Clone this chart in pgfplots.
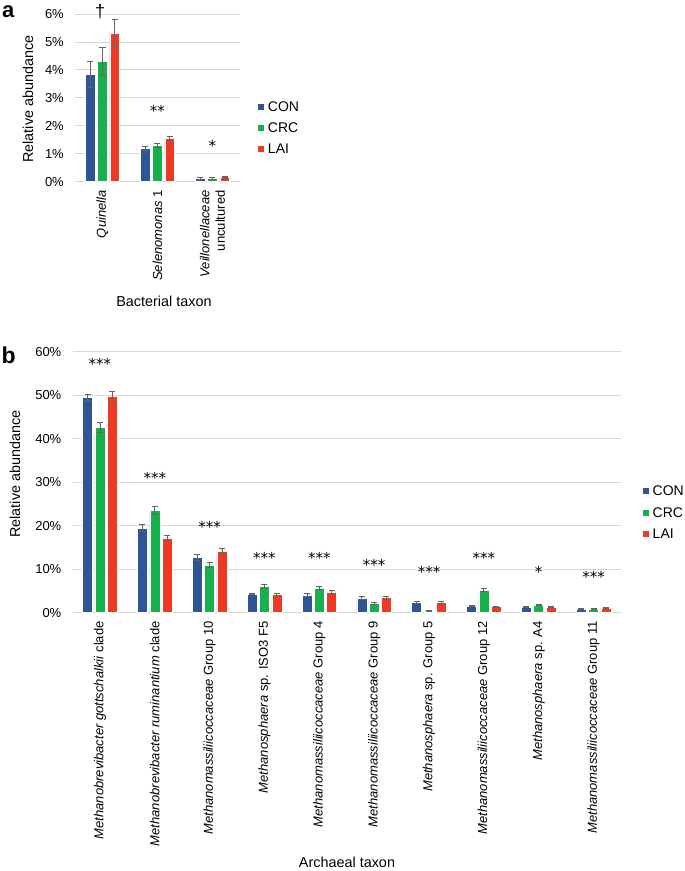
\documentclass[border=0pt]{standalone}
\usepackage{pgfplots}
\pgfplotsset{compat=1.18}
\usepackage{pgfplotstable}
\usepackage{fontspec}
\setmainfont{Liberation Sans}
\newfontfamily\djv{DejaVu Sans}
\definecolor{conblue}{RGB}{47,85,151}
\definecolor{crcgreen}{RGB}{22,176,76}
\definecolor{laired}{RGB}{238,58,36}
\definecolor{gridgray}{RGB}{217,217,217}
\definecolor{errgray}{RGB}{100,100,100}

\pgfplotstableread{
x CON eCON CRC eCRC LAI eLAI
0 3.85 0.47 4.30 0.50 5.32 0.48
1 1.19 0.06 1.29 0.07 1.55 0.08
2 0.12 0.02 0.12 0.02 0.16 0.02
}\tabA

\pgfplotstableread{
x CON eCON CRC eCRC LAI eLAI
0 49.5 0.8 42.6 1.1 49.8 1.0
1 19.4 0.8 23.5 0.9 17.2 0.6
2 12.7 0.6 11.0 0.6 14.1 0.6
3 4.3 0.2 6.1 0.5 4.2 0.2
4 4.1 0.3 5.7 0.3 4.8 0.3
5 3.4 0.3 2.1 0.2 3.45 0.3
6 2.4 0.2 0.45 0.1 2.3 0.2
7 1.55 0.15 5.2 0.4 1.4 0.15
8 1.3 0.15 1.8 0.2 1.3 0.15
9 0.85 0.1 0.8 0.1 1.05 0.1
}\tabB

\newcommand\tickfont{\fontsize{13bp}{15.6bp}\selectfont}
\newcommand\tickfontb{\fontsize{13bp}{15.6bp}\selectfont}
\newcommand\labfont{\fontsize{14.4bp}{17bp}\selectfont}
\newcommand\legfont{\fontsize{14bp}{16bp}\selectfont}

\tikzset{star/.style={font=\djv\fontsize{15bp}{17bp}\selectfont, anchor=base, inner sep=0pt, yshift=-8.8bp}}

\pgfplotsset{
  mystyle/.style={
    scale only axis, ybar, clip=false, enlargelimits=false,
    axis line style={draw=none}, major tick length=0pt,
    ymajorgrids, grid style={gridgray, line width=0.9bp},
    ymin=0,
    xticklabel style={rotate=90, anchor=east, inner sep=0pt, align=right},
    yticklabel style={inner sep=0pt, anchor=east},
    xticklabel shift=8.5bp, yticklabel shift=11bp,
    legend style={draw=none, fill=none, inner sep=0pt, outer sep=0pt, anchor=west,
      column sep=3.5bp, nodes={inner sep=0pt, text height=10bp, text depth=0bp, font=\legfont}},
    legend cell align=left,
    legend image code/.code={\fill[##1] (0bp,-3.5bp) rectangle (7bp,3.5bp);},
  },
  barp/.style={draw=white, line width=0.5bp, fill=#1,
    /pgfplots/error bars/y dir=both, /pgfplots/error bars/y explicit,
    /pgfplots/error bars/error bar style={errgray, line width=0.8bp},
    /pgfplots/error bars/error mark options={errgray, line width=0.8bp, mark size=3bp, rotate=90}},
}

\begin{document}
\begin{tikzpicture}
\fill[white] (0,0) rectangle (685bp,-871bp);
\useasboundingbox (0,0) rectangle (685bp,-871bp);

% ---------- panel a ----------
\begin{axis}[mystyle,
  at={(75bp,-181.7bp)}, anchor=south west, width=165bp, height=167.7bp,
  xmin=-0.5, xmax=2.5, ymax=6, ytick={0,1,2,3,4,5,6},
  yticklabels={0\%,1\%,2\%,3\%,4\%,5\%,6\%},
  xtick={0,1,2},
  xticklabels={{\textit{Quinella}},{\textit{Selenomonas} 1},{\textit{Veillonellaceae}\\uncultured}},
  ticklabel style={font=\tickfont},
  bar width=0.176,
  legend style={at={(1.103,0.3232)}, row sep=11bp},
]
\addplot[barp=conblue, bar shift=-0.222] table[x=x, y=CON, y error=eCON] {\tabA};
\addplot[barp=crcgreen, bar shift=0] table[x=x, y=CRC, y error=eCRC] {\tabA};
\addplot[barp=laired, bar shift=0.222] table[x=x, y=LAI, y error=eLAI] {\tabA};
\legend{CON,CRC,LAI}
\node[font=\fontsize{18bp}{20bp}\selectfont, anchor=base, inner sep=0pt, yshift=-5.1bp] at (axis cs:-0.045,6.04) {†};
\node[star] at (axis cs:1,2.64) {**};
\node[star] at (axis cs:2,1.38) {*};
\end{axis}

\node[anchor=base west, inner sep=0pt, font=\bfseries\fontsize{22bp}{26bp}\selectfont] at (2bp,-17bp) {a};
\node[rotate=90, font=\labfont] at (28bp,-99bp) {Relative abundance};
\node[font=\labfont] at (164bp,-301bp) {Bacterial taxon};

% ---------- panel b ----------
\begin{axis}[mystyle,
  at={(72.5bp,-612.7bp)}, anchor=south west, width=548.5bp, height=261bp,
  xmin=-0.5, xmax=9.5, ymax=60, ytick={0,10,20,30,40,50,60},
  yticklabels={0\%,10\%,20\%,30\%,40\%,50\%,60\%},
  xtick={0,...,9},
  xticklabels={
    {\textit{Methanobrevibacter gottschalkii} clade},
    {\textit{Methanobrevibacter ruminantium} clade},
    {\textit{Methanomassiliicoccaceae} Group 10},
    {\textit{Methanosphaera} sp. ISO3 F5},
    {\textit{Methanomassiliicoccaceae} Group 4},
    {\textit{Methanomassiliicoccaceae} Group 9},
    {\textit{Methanosphaera} sp. Group 5},
    {\textit{Methanomassiliicoccaceae} Group 12},
    {\textit{Methanosphaera} sp. A4},
    {\textit{Methanomassiliicoccaceae} Group 11}},
  xticklabel style={font=\tickfontb},
  yticklabel style={font=\tickfontb},
  bar width=0.1825,
  legend style={at={(1.0378,0.3847)}, row sep=11.5bp},
]
\addplot[barp=conblue, bar shift=-0.2245] table[x=x, y=CON, y error=eCON] {\tabB};
\addplot[barp=crcgreen, bar shift=0] table[x=x, y=CRC, y error=eCRC] {\tabB};
\addplot[barp=laired, bar shift=0.2245] table[x=x, y=LAI, y error=eLAI] {\tabB};
\legend{CON,CRC,LAI}
\node[star] at (axis cs:0,57.93) {***};
\node[star] at (axis cs:1,31.66) {***};
\node[star] at (axis cs:2,20.55) {***};
\node[star] at (axis cs:3,13.43) {***};
\node[star] at (axis cs:4,13.43) {***};
\node[star] at (axis cs:5,11.72) {***};
\node[star] at (axis cs:6,10.21) {***};
\node[star] at (axis cs:7,13.43) {***};
\node[star] at (axis cs:8,10.21) {*};
\node[star] at (axis cs:9,9.06) {***};
\end{axis}

\node[anchor=base west, inner sep=0pt, font=\bfseries\fontsize{23bp}{27bp}\selectfont] at (1.5bp,-363bp) {b};
\node[rotate=90, font=\labfont] at (15bp,-474bp) {Relative abundance};
\node[font=\labfont] at (347bp,-862bp) {Archaeal taxon};
\end{tikzpicture}
\end{document}
